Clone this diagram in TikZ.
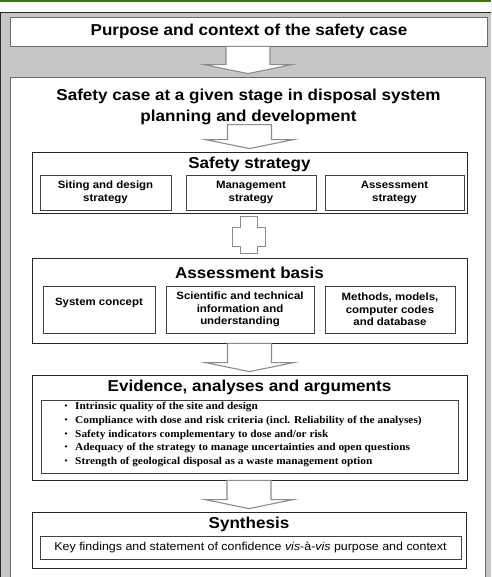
\documentclass[tikz,border=0pt]{standalone}
\usepackage{fontspec}
\setmainfont{Liberation Sans}[FakeStretch=1.08]
\newfontfamily\listfont{Liberation Serif}[FakeStretch=1.08]
\usetikzlibrary{calc}
\definecolor{bargreen}{HTML}{3A7812}
\definecolor{panelgray}{HTML}{C6C6C6}
\definecolor{arrowgray}{HTML}{8C8C8C}
\definecolor{framegray}{HTML}{6A6A6A}
\newcommand{\critem}{\makebox[11pt][l]{\hspace{0.5pt}\raisebox{0.8pt}{\scalebox{0.75}{\textbullet}}}}

\begin{document}
\begin{tikzpicture}[x=1pt,y=-1pt,
  frame/.style={draw=#1,fill=white,line width=0.8pt,inner sep=0pt},
  frame/.default=black!85,
  heading/.style={font=\fontsize{15.8}{21}\selectfont\bfseries,inner sep=0pt,align=center},
  part/.style={draw=black!75,fill=white,line width=0.7pt,inner sep=0pt,align=center,
    font=\fontsize{10.6}{12.6}\selectfont\bfseries},
  blockarrow/.style={draw=arrowgray,fill=white,line width=1.1pt}]
\useasboundingbox (0,0) rectangle (491,577);
\fill[white] (0,0) rectangle (491,577);
\clip (0,0) rectangle (491,577);
\draw[bargreen,line width=1.6pt] (0,0.8) -- (491,0.8);
\draw[fill=panelgray,draw=black!85,line width=1pt] (0.5,12.5) rectangle (500,600);

\node[frame=framegray,heading,minimum width=477,minimum height=29] (purpose) at (249,31.5) {Purpose and context of the safety case};
\node[frame=framegray,minimum width=475,minimum height=540] (stage) at (248,347) {};
\node[heading] (casetitle) at (248.5,106.5) {Safety case at a given stage in disposal system\\planning and development};

\node[frame,minimum width=435,minimum height=61] (strategy) at (249.5,182.5) {};
\node[heading] (strategytitle) at (249.5,164) {Safety strategy};
\node[part,minimum width=131,minimum height=35] (siting) at (105.5,192.5) {Siting and design\\strategy};
\node[part,minimum width=130,minimum height=35] (management) at (251,192.5) {Management\\strategy};
\node[part,minimum width=139,minimum height=35] (assessstrategy) at (394.5,192.5) {Assessment\\strategy};

\node[frame,minimum width=435,minimum height=85] (basis) at (249.5,300.5) {};
\node[heading] (basistitle) at (249.5,273) {Assessment basis};
\node[part,minimum width=112,minimum height=47] (concept) at (99,309.5) {System concept\\\strut};
\node[part,minimum width=148,minimum height=47] (knowledge) at (240,309.5) {Scientific and technical\\information and\\understanding};
\node[part,minimum width=130,minimum height=47] (methods) at (390,309.5) {Methods, models,\\computer codes\\and database};

\node[frame,minimum width=435,minimum height=105] (evidence) at (249.5,427.5) {};
\node[heading] (evidencetitle) at (249.5,387) {Evidence, analyses and arguments};
\node[part,minimum width=417,minimum height=73] (arguments) at (249.5,436.5) {};
\node[anchor=west,align=left,inner sep=0pt,font=\listfont\bfseries\fontsize{10.5}{13.75}\selectfont] (argumentlist) at (64,434.5)
  {\critem Intrinsic quality of the site and design\\
   \critem Compliance with dose and risk criteria (incl. Reliability of the analyses)\\
   \critem Safety indicators complementary to dose and/or risk\\
   \critem Adequacy of the strategy to manage uncertainties and open questions\\
   \critem Strength of geological disposal as a waste management option};

\node[frame,minimum width=434,minimum height=56] (synthesis) at (249,540) {};
\node[heading] (synthesistitle) at (249,524) {Synthesis};
\node[part,font=\fontsize{11.5}{13.5}\selectfont,minimum width=421,minimum height=23] (findings) at (250.5,547.5)
  {Key findings and statement of confidence \textit{vis}-à-\textit{vis} purpose and context};

\foreach \a/\b in {purpose/stage,casetitle/strategy,basis/evidence,evidence/synthesis}
  \draw[blockarrow] let \p1=(\a.south),\p2=(\b.north) in
    (\x2-22pt,\y1) -- (\x2-22pt,\y2+12pt) -- (\x2-44pt,\y2+12pt) -- (\x2,\y2+3pt)
    -- (\x2+44pt,\y2+12pt) -- (\x2+22pt,\y2+12pt) -- (\x2+22pt,\y1) -- cycle;
\draw[blockarrow] let \p1=(strategy.south),\p2=(basis.north) in
  (\x1-9pt,\y1-3pt) -- (\x1+8pt,\y1-3pt) -- (\x1+8pt,\y1-14pt) -- (\x1+16pt,\y1-14pt)
  -- (\x1+16pt,\y2+11pt) -- (\x1+8pt,\y2+11pt) -- (\x1+8pt,\y2+4pt) -- (\x1-9pt,\y2+4pt)
  -- (\x1-9pt,\y2+11pt) -- (\x1-17pt,\y2+11pt) -- (\x1-17pt,\y1-14pt) -- (\x1-9pt,\y1-14pt) -- cycle;
\end{tikzpicture}
\end{document}
